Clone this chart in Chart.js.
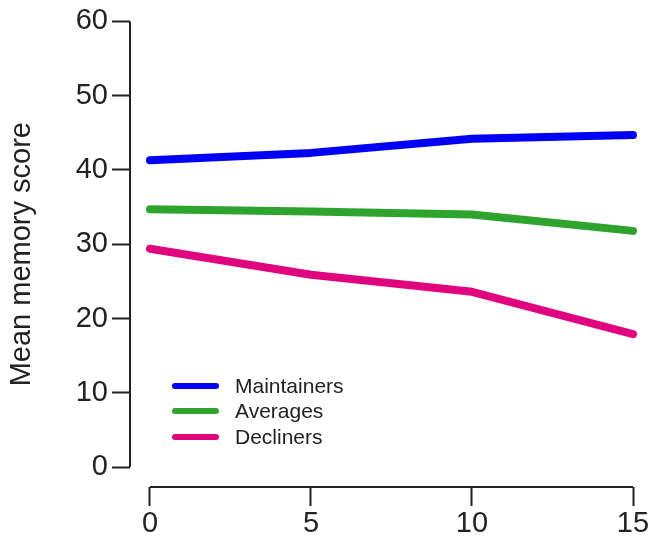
<!DOCTYPE html>
<html lang="en">
<head>
  <meta charset="UTF-8" />
  <title>Mean memory score</title>
  <style>
    html, body { margin: 0; padding: 0; background: #fff; }
    .wrap { position: relative; width: 652px; height: 537px; }
    canvas { display: block; }
    .legend { position: absolute; left: 172px; top: 373px; font-family: 'Liberation Sans', Arial, sans-serif; font-size: 21px; color: #222; }
    .legend .item { display: flex; align-items: center; height: 25.5px; }
    .legend .swatch { width: 47px; height: 6px; border-radius: 3px; margin-right: 16px; }
  </style>
</head>
<body>
<div class="wrap">
  <canvas id="chart" width="652" height="537"></canvas>
  <div class="legend" id="legend"></div>
</div>

<script src="https://cdn.jsdelivr.net/npm/chart.js"></script>
<script>
const years = [0, 5, 10, 15];
const maintainers = [41.3, 42.3, 44.2, 44.7];
const averages = [34.7, 34.4, 34.0, 31.8];
const decliners = [29.4, 25.9, 23.6, 17.9];
const xTicks = [0, 5, 10, 15];
const yTicks = [0, 10, 20, 30, 40, 50, 60];

const seriesNames = ['Maintainers', 'Averages', 'Decliners'];
const seriesColors = ['#0000f5', '#2ea32e', '#e0047f'];
const seriesValues = [maintainers, averages, decliners];

const axisColor = '#222';
const font = "'Liberation Sans', Arial, sans-serif";

// axis lines only over the data range (0-60, 0-15), detached at the corner
const rangeFrame = {
  id: 'rangeFrame',
  afterDraw(chart) {
    const { ctx, chartArea, scales } = chart;
    ctx.save();
    ctx.strokeStyle = axisColor;
    ctx.lineWidth = 2;
    ctx.beginPath();
    ctx.moveTo(chartArea.left, scales.y.getPixelForValue(yTicks[yTicks.length - 1]));
    ctx.lineTo(chartArea.left, scales.y.getPixelForValue(yTicks[0]));
    ctx.moveTo(scales.x.getPixelForValue(xTicks[0]), chartArea.bottom);
    ctx.lineTo(scales.x.getPixelForValue(xTicks[xTicks.length - 1]), chartArea.bottom);
    ctx.stroke();
    ctx.restore();
  }
};

const datasets = seriesNames.map((name, i) => ({
  label: name,
  data: years.map((x, j) => ({ x: x, y: seriesValues[i][j] })),
  borderColor: seriesColors[i],
  borderWidth: 8,
  borderCapStyle: 'round',
  borderJoinStyle: 'round',
  pointRadius: 0,
  tension: 0,
  clip: false
}));

new Chart(document.getElementById('chart'), {
  type: 'line',
  data: { datasets: datasets },
  plugins: [rangeFrame],
  options: {
    responsive: false,
    animation: false,
    layout: { padding: { top: 20, right: 19, left: 0, bottom: 0 } },
    plugins: { legend: { display: false }, tooltip: { enabled: false } },
    scales: {
      x: {
        type: 'linear',
        min: -0.62,
        max: 15,
        afterBuildTicks: s => { s.ticks = xTicks.map(v => ({ value: v })); },
        afterFit: s => { s.height = 50; },
        border: { display: false },
        grid: { drawOnChartArea: false, drawTicks: true, tickLength: 19, tickWidth: 2, tickColor: axisColor },
        ticks: { color: axisColor, font: { family: font, size: 29 }, padding: 1, maxRotation: 0 }
      },
      y: {
        min: -2.68,
        max: 60,
        afterBuildTicks: s => { s.ticks = yTicks.map(v => ({ value: v })); },
        afterFit: s => { s.width = 130; },
        border: { display: false },
        grid: { drawOnChartArea: false, drawTicks: true, tickLength: 18, tickWidth: 2, tickColor: axisColor },
        ticks: { color: axisColor, font: { family: font, size: 29 }, padding: 4 },
        title: { display: true, text: 'Mean memory score', color: axisColor, font: { family: font, size: 29 }, padding: { top: 5, bottom: 0 } }
      }
    }
  }
});

const legend = document.getElementById('legend');
seriesNames.forEach((name, i) => {
  const item = document.createElement('div');
  item.className = 'item';
  item.innerHTML = '<span class="swatch" style="background:' + seriesColors[i] + '"></span><span>' + name + '</span>';
  legend.appendChild(item);
});
</script>
</body>
</html>
